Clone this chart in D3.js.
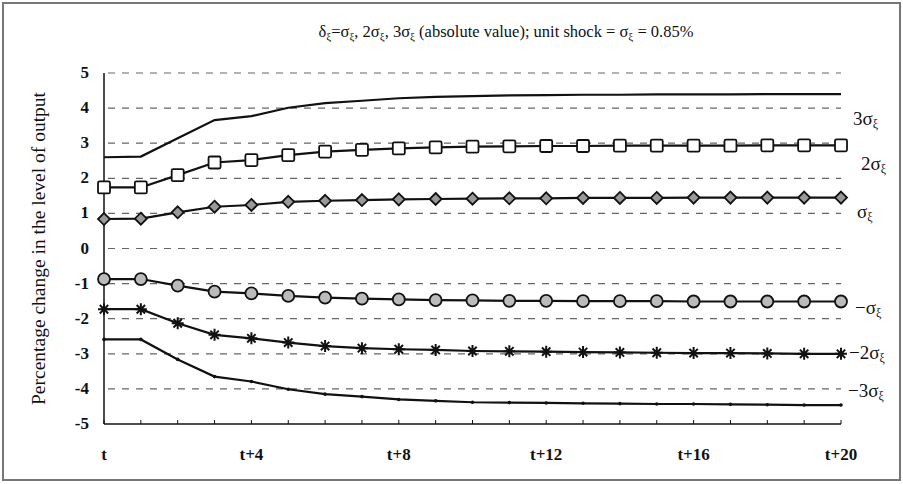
<!DOCTYPE html>
<html>
<head>
<meta charset="utf-8">
<script src="https://cdn.jsdelivr.net/npm/d3@7"></script>
<style>
  body { margin: 0; background: #fff; }
  text { font-family: "Liberation Serif", "Times New Roman", serif; fill: #111; }
</style>
</head>
<body>
<div id="chart-container"></div>
<script>
// Periods t .. t+20
const periods = d3.range(0, 21);
const xTickLabels = ["t", "t+4", "t+8", "t+12", "t+16", "t+20"];
const yTicks = [5, 4, 3, 2, 1, 0, -1, -2, -3, -4, -5];

// Series values (percentage change in output)
const pos3 = [2.60, 2.62, 3.14, 3.66, 3.77, 4.01, 4.14, 4.21, 4.28, 4.32, 4.34, 4.36, 4.37, 4.38, 4.38, 4.39, 4.39, 4.39, 4.40, 4.40, 4.40];
const pos2 = [1.74, 1.74, 2.09, 2.45, 2.52, 2.66, 2.76, 2.81, 2.85, 2.88, 2.90, 2.91, 2.92, 2.92, 2.93, 2.93, 2.93, 2.93, 2.94, 2.94, 2.94];
const pos1 = [0.84, 0.85, 1.03, 1.19, 1.24, 1.33, 1.36, 1.38, 1.40, 1.41, 1.42, 1.43, 1.43, 1.44, 1.44, 1.44, 1.45, 1.45, 1.45, 1.45, 1.45];
const neg1 = [-0.87, -0.87, -1.06, -1.23, -1.28, -1.35, -1.40, -1.43, -1.45, -1.47, -1.48, -1.49, -1.49, -1.50, -1.50, -1.50, -1.51, -1.51, -1.51, -1.51, -1.51];
const neg2 = [-1.73, -1.73, -2.13, -2.46, -2.56, -2.68, -2.78, -2.84, -2.87, -2.89, -2.92, -2.93, -2.94, -2.95, -2.96, -2.97, -2.98, -2.98, -2.99, -3.00, -3.00];
const neg3 = [-2.59, -2.59, -3.16, -3.65, -3.79, -4.01, -4.15, -4.22, -4.30, -4.34, -4.38, -4.39, -4.40, -4.41, -4.42, -4.43, -4.43, -4.44, -4.45, -4.46, -4.46];

const seriesNames = ["3σ", "2σ", "σ", "−σ", "−2σ", "−3σ"];

const W = 903, H = 484;
const x = d3.scaleLinear().domain([0, 20]).range([104, 841]);
const y = d3.scaleLinear().domain([-5, 5]).range([424, 73]);

const svg = d3.select("#chart-container")
    .append("svg")
    .attr("width", W)
    .attr("height", H);

// outer frame
svg.append("rect")
    .attr("x", 3).attr("y", 3)
    .attr("width", W - 6).attr("height", H - 7)
    .attr("fill", "#fff")
    .attr("stroke", "#777")
    .attr("stroke-width", 2);

// title with subscripts
const title = svg.append("text")
    .attr("x", 506).attr("y", 37)
    .attr("text-anchor", "middle")
    .style("font-size", "16.5px");
const sub = (t) => title.append("tspan").attr("baseline-shift", "-25%").style("font-size", "11px").text(t);
const txt = (t) => title.append("tspan").text(t);
txt("δ"); sub("ξ"); txt("=σ"); sub("ξ"); txt(", 2σ"); sub("ξ"); txt(", 3σ"); sub("ξ");
txt(" (absolute value); unit shock = σ"); sub("ξ"); txt(" = 0.85%");

// dashed gridlines
svg.append("g")
    .selectAll("line")
    .data(yTicks.filter(d => d > -5))
    .join("line")
    .attr("x1", x(0) + 4).attr("x2", x(20))
    .attr("y1", d => y(d)).attr("y2", d => y(d))
    .attr("stroke", "#666")
    .attr("stroke-width", 1.2)
    .attr("stroke-dasharray", "7,7");

// y axis
svg.append("line")
    .attr("x1", x(0)).attr("x2", x(0))
    .attr("y1", y(5)).attr("y2", y(-5))
    .attr("stroke", "#111").attr("stroke-width", 1.5);

svg.append("g")
    .selectAll("text")
    .data(yTicks)
    .join("text")
    .attr("x", 89)
    .attr("y", d => y(d) + 5)
    .attr("text-anchor", "end")
    .style("font-size", "17px")
    .style("font-weight", "bold")
    .text(d => d);

// x axis with small upward ticks
svg.append("line")
    .attr("x1", x(0)).attr("x2", x(20))
    .attr("y1", y(-5)).attr("y2", y(-5))
    .attr("stroke", "#111").attr("stroke-width", 1.5);

svg.append("g")
    .selectAll("line")
    .data(periods)
    .join("line")
    .attr("x1", d => x(d)).attr("x2", d => x(d))
    .attr("y1", y(-5)).attr("y2", y(-5) - 4)
    .attr("stroke", "#111").attr("stroke-width", 1);

svg.append("g")
    .selectAll("text")
    .data(xTickLabels)
    .join("text")
    .attr("x", (d, i) => x(i * 4))
    .attr("y", 460)
    .attr("text-anchor", "middle")
    .style("font-size", "17px")
    .style("font-weight", "bold")
    .text(d => d);

// y axis title
svg.append("text")
    .attr("transform", `translate(45,${y(0)}) rotate(-90)`)
    .attr("text-anchor", "middle")
    .style("font-size", "19.5px")
    .text("Percentage change in the level of output");

// lines
const line = d3.line()
    .x((d, i) => x(i))
    .y(d => y(d));

const allSeries = [pos3, pos2, pos1, neg1, neg2, neg3];
allSeries.forEach(s => {
    svg.append("path")
        .datum(s)
        .attr("fill", "none")
        .attr("stroke", "#111")
        .attr("stroke-width", 2.2)
        .attr("d", line);
});

// markers
// open squares for 2σ
svg.append("g")
    .selectAll("rect")
    .data(pos2)
    .join("rect")
    .attr("x", (d, i) => x(i) - 6)
    .attr("y", d => y(d) - 6)
    .attr("width", 12).attr("height", 12)
    .attr("rx", 1.5)
    .attr("fill", "#fff")
    .attr("stroke", "#111")
    .attr("stroke-width", 1.8);

// shaded diamonds for σ
svg.append("g")
    .selectAll("path")
    .data(pos1)
    .join("path")
    .attr("transform", (d, i) => `translate(${x(i)},${y(d)})`)
    .attr("d", "M0,-6L6,0L0,6L-6,0Z")
    .attr("fill", "#999")
    .attr("stroke", "#111")
    .attr("stroke-width", 1.8);

// shaded circles for −σ
svg.append("g")
    .selectAll("circle")
    .data(neg1)
    .join("circle")
    .attr("cx", (d, i) => x(i))
    .attr("cy", d => y(d))
    .attr("r", 6)
    .attr("fill", "#bbb")
    .attr("stroke", "#111")
    .attr("stroke-width", 1.8);

// asterisks for −2σ
const star = "M-6,0L6,0M-4.2,-4.2L4.2,4.2M-4.2,4.2L4.2,-4.2M0,-6L0,6";
svg.append("g")
    .selectAll("path")
    .data(neg2)
    .join("path")
    .attr("transform", (d, i) => `translate(${x(i)},${y(d)})`)
    .attr("d", star)
    .attr("fill", "none")
    .attr("stroke", "#111")
    .attr("stroke-width", 2);

// small dots for −3σ
svg.append("g")
    .selectAll("circle")
    .data(neg3)
    .join("circle")
    .attr("cx", (d, i) => x(i))
    .attr("cy", d => y(d))
    .attr("r", 1.8)
    .attr("fill", "#111");

// right-hand labels
const labelPos = [
    { x: 853, y: 125 },
    { x: 861, y: 170 },
    { x: 857, y: 218 },
    { x: 855, y: 314 },
    { x: 849, y: 359 },
    { x: 848, y: 397 }
];
seriesNames.forEach((name, i) => {
    const t = svg.append("text")
        .attr("x", labelPos[i].x)
        .attr("y", labelPos[i].y)
        .style("font-size", "19px");
    t.append("tspan").text(name);
    t.append("tspan").attr("baseline-shift", "-25%").style("font-size", "12px").text("ξ");
});
</script>
</body>
</html>
